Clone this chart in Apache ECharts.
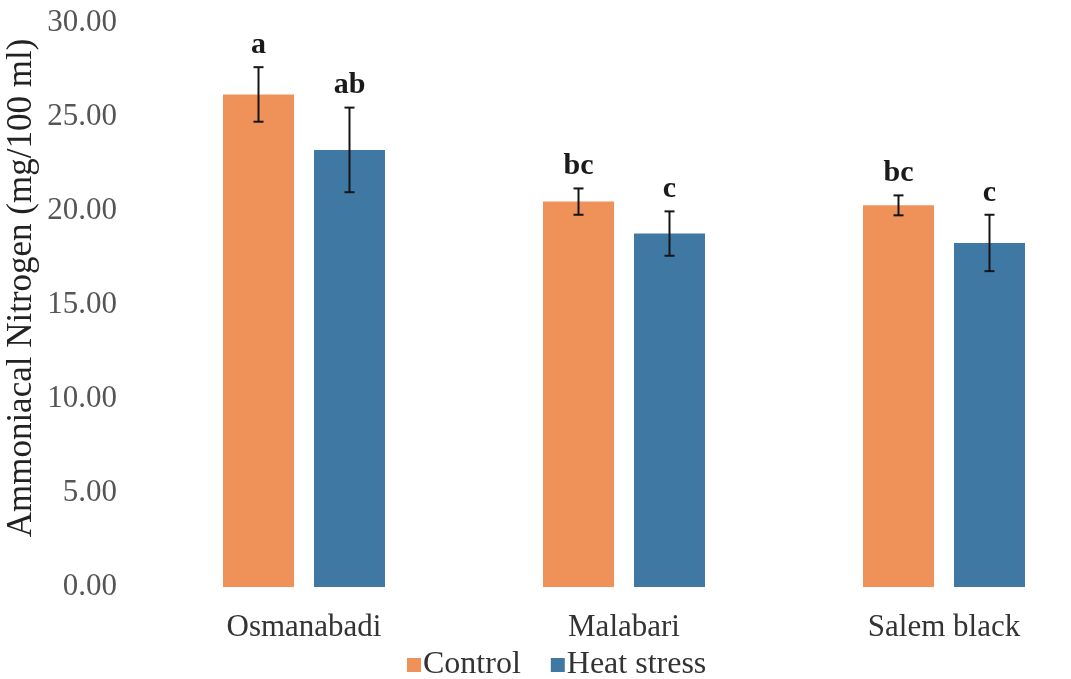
<!DOCTYPE html>
<html>
<head>
<meta charset="utf-8">
<script src="https://cdn.jsdelivr.net/npm/echarts@6/dist/echarts.min.js"></script>
<style>
  html, body { margin: 0; padding: 0; background: #fff; }
  #chart { width: 1071px; height: 679px; }
</style>
</head>
<body>
<div id="chart"></div>
<script>
// Breeds and treatment groups
const breeds = ['Osmanabadi', 'Malabari', 'Salem black'];
const groups = ['Control', 'Heat stress'];
const yTitle = 'Ammoniacal Nitrogen (mg/100 ml)';

// Ammoniacal nitrogen means (mg/100 ml)
const controlMean = [26.2, 20.5, 20.3];
const heatMean = [23.25, 18.8, 18.3];

// Standard errors
const controlSE = [1.45, 0.7, 0.53];
const heatSE = [2.25, 1.18, 1.5];

// Significance letters
const controlLetters = ['a', 'bc', 'bc'];
const heatLetters = ['ab', 'c', 'c'];

// Y axis ticks
const yMin = 0, yMax = 30, yStep = 5;

const ORANGE = '#EE9259';
const BLUE = '#4078A4';
const BAR_W = 71;
const BAR_GAP = 20;
const SERIF = '"Liberation Serif", "Times New Roman", serif';

// Error bar + letter drawn at the centre of each bar
function errorSeries(name, means, errs, letters, side) {
  const data = means.map((m, i) => [i, m, errs[i]]);
  return {
    type: 'custom',
    name: name + ' SE',
    data: data,
    z: 10,
    renderItem: function (params, api) {
      const i = api.value(0);
      const m = api.value(1);
      const e = api.value(2);
      const shift = side * (BAR_W + BAR_GAP) / 2;
      const top = api.coord([i, m + e]);
      const bot = api.coord([i, m - e]);
      const x = top[0] + shift;
      const cap = 5;
      const st = { stroke: '#151515', lineWidth: 2 };
      return {
        type: 'group',
        children: [
          { type: 'line', shape: { x1: x, y1: top[1], x2: x, y2: bot[1] }, style: st },
          { type: 'line', shape: { x1: x - cap, y1: top[1], x2: x + cap, y2: top[1] }, style: st },
          { type: 'line', shape: { x1: x - cap, y1: bot[1], x2: x + cap, y2: bot[1] }, style: st },
          {
            type: 'text',
            style: {
              x: x, y: top[1] - 7,
              text: letters[params.dataIndex],
              fill: '#1a1a1a',
              font: 'bold 30px ' + SERIF,
              align: 'center', verticalAlign: 'bottom'
            }
          }
        ]
      };
    }
  };
}

const chart = echarts.init(document.getElementById('chart'), null, { renderer: 'canvas' });

chart.setOption({
  animation: false,
  backgroundColor: '#ffffff',
  grid: { left: 144, top: 23, width: 960, height: 564, containLabel: false, outerBoundsMode: 'none' },
  graphic: [{
    type: 'text',
    x: 22, y: 288,
    rotation: Math.PI / 2,
    style: {
      text: yTitle,
      font: '35px ' + SERIF,
      fill: '#222',
      align: 'center', verticalAlign: 'middle'
    }
  }],
  legend: {
    data: groups,
    left: 402, top: 644,
    itemWidth: 14, itemHeight: 14, itemGap: 30,
    icon: 'rect',
    textStyle: { fontFamily: SERIF, fontSize: 32, color: '#333', padding: [0, 0, 0, -3] }
  },
  xAxis: {
    type: 'category',
    data: breeds,
    axisLine: { show: false },
    axisTick: { show: false },
    axisLabel: { fontFamily: SERIF, fontSize: 31, color: '#333', margin: 25 }
  },
  yAxis: {
    type: 'value',
    min: yMin, max: yMax, interval: yStep,
    axisLine: { show: false },
    axisTick: { show: false },
    splitLine: { show: false },
    axisLabel: {
      fontFamily: SERIF, fontSize: 31, color: '#555', margin: 27,
      formatter: v => v.toFixed(2)
    }
  },
  series: [
    { name: groups[0], type: 'bar', data: controlMean, barWidth: BAR_W, barGap: (BAR_GAP / BAR_W * 100) + '%', itemStyle: { color: ORANGE } },
    { name: groups[1], type: 'bar', data: heatMean, barWidth: BAR_W, itemStyle: { color: BLUE } },
    errorSeries(groups[0], controlMean, controlSE, controlLetters, -1),
    errorSeries(groups[1], heatMean, heatSE, heatLetters, 1)
  ]
});
</script>
</body>
</html>
